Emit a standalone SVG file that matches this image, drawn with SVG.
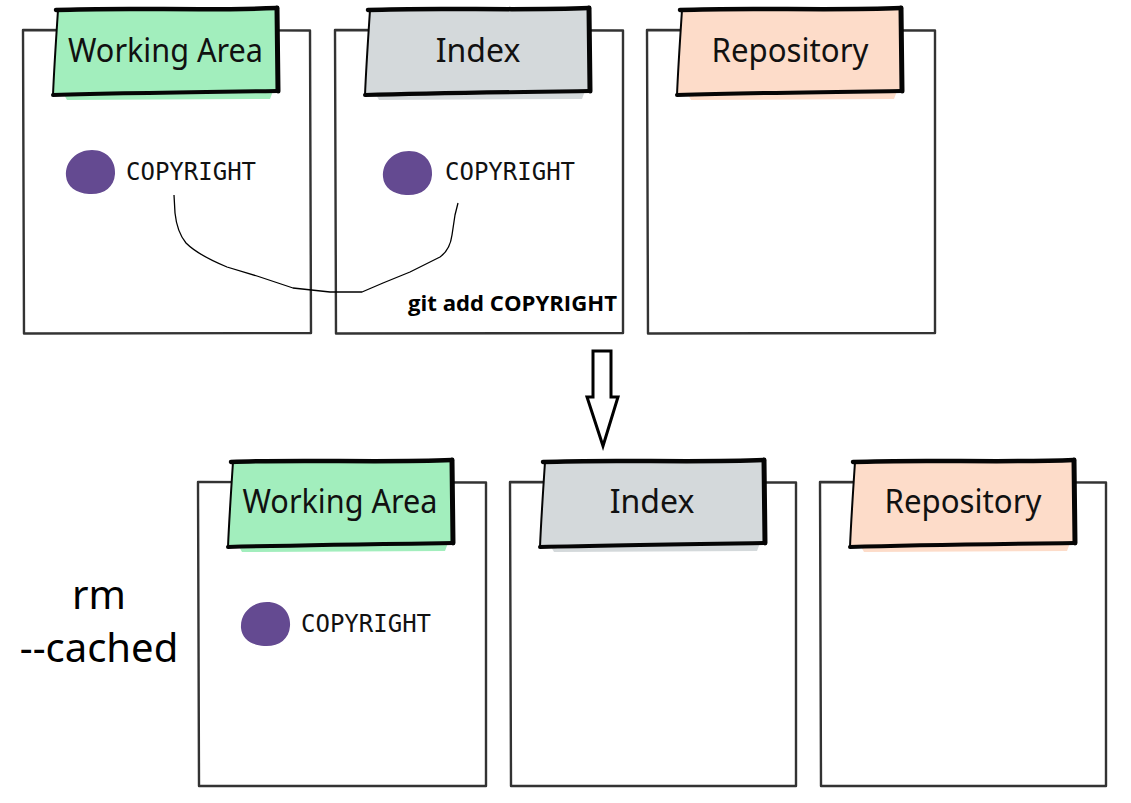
<svg xmlns="http://www.w3.org/2000/svg" width="1131" height="803" viewBox="0 0 1131 803">
<style>
.box{fill:#fff;stroke:#333;stroke-width:2.4;stroke-linejoin:round}
.edge{fill:none;stroke:#050505;stroke-linecap:round;stroke-linejoin:round}
.t{stroke-width:4.5}.r{stroke-width:5}.b{stroke-width:4}.l{stroke-width:2}
.green{fill:#a2eebd}.grey{fill:#d4d9db}.peach{fill:#fddcc9}
.title{font-family:"Noto Sans","Open Sans",sans-serif;font-size:32px;fill:#111;text-anchor:middle}
.file{font-family:"DejaVu Sans Mono","Liberation Mono",monospace;font-size:24px;fill:#111}
.dot{fill:#644a91}
.conn{fill:none;stroke:#000;stroke-width:1.3;stroke-linejoin:round}
.cmd{font-family:"Open Sans","Noto Sans",sans-serif;font-size:22px;font-weight:700;fill:#000}
.side{font-family:"Noto Sans","Open Sans",sans-serif;font-size:40px;fill:#000;text-anchor:middle}
</style>
<defs>
<path id="blob" d="M-24,4 C-25,-11 -13,-22 2,-22 C17,-22 26,-11 25,2 C24,16 13,23 -1,22 C-14,21 -23,15 -24,4 Z"/>
<path id="tabshape" d="M35,-20 L254,-22 L255,61 L30,65 Z"/>
<path id="halo" d="M40,63 L250,61 L247,69 L44,70 Z"/>
</defs>
<rect width="1131" height="803" fill="#fff"/>

<g id="top-working">
<g transform="translate(23,30)">
<path class="box" d="M0,0 L287,0.5 L288,303 L1,303.5 Z"/>
<use href="#halo" class="green"/>
<use href="#tabshape" class="green"/>
<path class="edge t" d="M33,-20 C100,-23 180,-19 254,-22"/>
<path class="edge r" d="M254,-22 L255,61"/>
<path class="edge b" d="M255,61 C180,62 100,63 30,65"/>
<path class="edge l" d="M30,65 C31,40 33,10 35,-20"/>
<text class="title" x="142.5" y="32" textLength="195" lengthAdjust="spacingAndGlyphs">Working Area</text>
<use href="#blob" class="dot" x="67" y="142"/>
<text class="file" x="103" y="150">COPYRIGHT</text>
</g>
</g>

<g id="top-index">
<g transform="translate(335,30)">
<path class="box" d="M0,0 L288,0.5 L288,303 L1,303.5 Z"/>
<use href="#halo" class="grey"/>
<use href="#tabshape" class="grey"/>
<path class="edge t" d="M33,-20 C100,-23 180,-19 254,-22"/>
<path class="edge r" d="M254,-22 L255,61"/>
<path class="edge b" d="M255,61 C180,62 100,63 30,65"/>
<path class="edge l" d="M30,65 C31,40 33,10 35,-20"/>
<text class="title" x="143" y="32">Index</text>
<use href="#blob" class="dot" x="72" y="143"/>
<text class="file" x="110" y="150">COPYRIGHT</text>
</g>
</g>

<g id="top-repository">
<g transform="translate(647,30)">
<path class="box" d="M0,0 L288,0.5 L288,303 L1,303.5 Z"/>
<use href="#halo" class="peach"/>
<use href="#tabshape" class="peach"/>
<path class="edge t" d="M33,-20 C100,-23 180,-19 254,-22"/>
<path class="edge r" d="M254,-22 L255,61"/>
<path class="edge b" d="M255,61 C180,62 100,63 30,65"/>
<path class="edge l" d="M30,65 C31,40 33,10 35,-20"/>
<text class="title" x="143" y="32" textLength="157" lengthAdjust="spacingAndGlyphs">Repository</text>
</g>
</g>

<g id="connectors">
<path class="conn" d="M174,195 L175,213 Q177,232 186,243 Q198,255 227,267 L257,276 Q275,282 293,288 L330,292 L362,292 L383,283 L410,272 L440,257 Q450,250 452,235 L455,215 L458,203"/>
<path d="M593,351 L611,351 L611,397 L618,397 L603,446 L587,397 L593,397 Z" fill="#fff" stroke="#000" stroke-width="3" stroke-linejoin="miter"/>
</g>

<g id="label-git-add">
<text class="cmd" x="408" y="311" textLength="209" lengthAdjust="spacingAndGlyphs">git add COPYRIGHT</text>
</g>

<g id="label-rm-cached">
<text class="side" x="99" y="609">rm</text>
<text class="side" x="99" y="662">--cached</text>
</g>

<g id="bottom-working">
<g transform="translate(198,482)">
<path class="box" d="M0,0 L288,0.5 L288,304 L1,304 Z"/>
<use href="#halo" class="green"/>
<use href="#tabshape" class="green"/>
<path class="edge t" d="M33,-20 C100,-23 180,-19 254,-22"/>
<path class="edge r" d="M254,-22 L255,61"/>
<path class="edge b" d="M255,61 C180,62 100,63 30,65"/>
<path class="edge l" d="M30,65 C31,40 33,10 35,-20"/>
<text class="title" x="142" y="31" textLength="195" lengthAdjust="spacingAndGlyphs">Working Area</text>
<use href="#blob" class="dot" x="67" y="142"/>
<text class="file" x="103" y="150">COPYRIGHT</text>
</g>
</g>

<g id="bottom-index">
<g transform="translate(510,482)">
<path class="box" d="M0,0 L286,0.5 L286,304 L1,304 Z"/>
<use href="#halo" class="grey"/>
<use href="#tabshape" class="grey"/>
<path class="edge t" d="M33,-20 C100,-23 180,-19 254,-22"/>
<path class="edge r" d="M254,-22 L255,61"/>
<path class="edge b" d="M255,61 C180,62 100,63 30,65"/>
<path class="edge l" d="M30,65 C31,40 33,10 35,-20"/>
<text class="title" x="142" y="31">Index</text>
</g>
</g>

<g id="bottom-repository">
<g transform="translate(820,482)">
<path class="box" d="M0,0 L286,0.5 L286,304 L1,304 Z"/>
<use href="#halo" class="peach"/>
<use href="#tabshape" class="peach"/>
<path class="edge t" d="M33,-20 C100,-23 180,-19 254,-22"/>
<path class="edge r" d="M254,-22 L255,61"/>
<path class="edge b" d="M255,61 C180,62 100,63 30,65"/>
<path class="edge l" d="M30,65 C31,40 33,10 35,-20"/>
<text class="title" x="143" y="31" textLength="157" lengthAdjust="spacingAndGlyphs">Repository</text>
</g>
</g>
</svg>
